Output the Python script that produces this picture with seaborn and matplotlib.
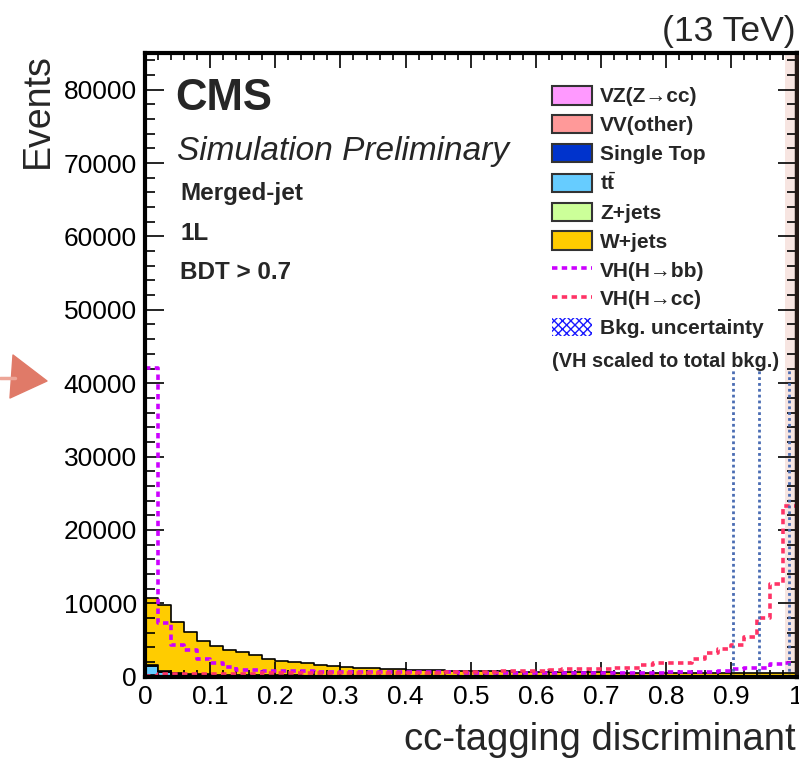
import numpy as np
import pandas as pd
import matplotlib
matplotlib.use("Agg")
import matplotlib.pyplot as plt
import seaborn as sns
from matplotlib.patches import Patch, Polygon
from matplotlib.lines import Line2D

# ---- binning of the cc-tagging discriminant: 50 bins on [0, 1] ----
n_bins = 50
bin_range = (0.0, 1.0)
bin_centers = (np.arange(n_bins) + 0.5) / n_bins

# ---- background yields per bin (events) ----
wjets = [9050, 9070, 6920, 5740, 4585, 3950, 3390, 3110, 2755, 2220,
         2005, 1835, 1675, 1450, 1320, 1150, 1100, 1030, 975, 900,
         850, 815, 780, 740, 705, 675, 650, 620, 600, 585,
         565, 545, 530, 520, 510, 505, 495, 485, 478, 470,
         460, 452, 444, 436, 430, 424, 418, 412, 406, 400]
zjets = [130, 110, 90, 75, 62, 55, 48, 43, 39, 35,
         32, 30, 28, 26, 24, 23, 22, 21, 20, 19,
         18, 18, 17, 17, 16, 16, 15, 15, 15, 14,
         14, 14, 13, 13, 13, 12, 12, 12, 12, 11,
         11, 11, 11, 10, 10, 10, 10, 10, 9, 9]
ttbar = [1250, 470, 320, 250, 200, 170, 150, 135, 125, 115,
         108, 102, 96, 92, 88, 84, 80, 77, 74, 72,
         70, 68, 66, 64, 62, 60, 58, 57, 56, 55,
         54, 53, 52, 51, 50, 49, 48, 47, 46, 45,
         44, 43, 42, 41, 40, 40, 39, 38, 37, 36]
single_top = [200, 90, 60, 48, 40, 35, 31, 28, 26, 24,
              22, 21, 20, 19, 18, 17, 16, 16, 15, 15,
              14, 14, 13, 13, 12, 12, 12, 11, 11, 11,
              10, 10, 10, 10, 9, 9, 9, 9, 8, 8,
              8, 8, 8, 7, 7, 7, 7, 7, 6, 6]
vv_other = [45, 30, 24, 20, 17, 15, 13, 12, 11, 10,
            9, 9, 9, 8, 8, 8, 7, 7, 7, 7,
            6, 6, 6, 6, 6, 6, 5, 5, 5, 5,
            5, 5, 5, 5, 5, 4, 4, 4, 4, 4,
            4, 4, 4, 4, 4, 4, 4, 4, 4, 4]
vz_cc = [15, 10, 8, 7, 6, 5, 5, 4, 4, 4,
         4, 3, 3, 3, 3, 3, 3, 3, 3, 3,
         3, 3, 3, 3, 3, 3, 3, 3, 3, 3,
         3, 3, 3, 3, 3, 3, 3, 3, 3, 3,
         3, 3, 3, 3, 3, 3, 3, 3, 3, 3]

# ---- signal shapes (VH scaled to total background) ----
vh_bb = [42100, 7370, 4320, 3640, 2410, 1830, 1280, 910, 910, 820,
         780, 750, 720, 700, 680, 660, 650, 640, 630, 620,
         610, 600, 590, 580, 570, 560, 550, 550, 540, 540,
         540, 530, 530, 530, 530, 540, 540, 550, 560, 570,
         580, 600, 650, 700, 800, 1000, 1150, 1230, 1690, 1910]
vh_cc = [150, 300, 330, 350, 370, 390, 400, 420, 430, 440,
         450, 460, 470, 480, 490, 500, 510, 520, 530, 540,
         550, 560, 570, 580, 600, 650, 700, 750, 780, 780,
         800, 850, 1000, 1000, 1000, 1100, 1200, 1230, 1600, 1850,
         1850, 1850, 2370, 3190, 3740, 4320, 5460, 8050, 12600, 23300]

# working-point markers
wp_cuts = [0.902, 0.943, 0.988]
wp_height = 42100

bkg_names = ["W+jets", "Z+jets", "t$\\bar{\\mathbf{t}}$", "Single Top", "VV(other)", "VZ(Z\u2192cc)"]
bkg_yields = [wjets, zjets, ttbar, single_top, vv_other, vz_cc]
bkg_colors = ["#ffcc00", "#ccff99", "#66ccff", "#0033cc", "#ff9999", "#ff99ff"]

x_tick_values = [0, 0.1, 0.2, 0.3, 0.4, 0.5, 0.6, 0.7, 0.8, 0.9, 1.0]
x_tick_labels = ["0", "0.1", "0.2", "0.3", "0.4", "0.5", "0.6", "0.7", "0.8", "0.9", "1"]
y_tick_values = [0, 10000, 20000, 30000, 40000, 50000, 60000, 70000, 80000]

# ---- long table for seaborn ----
bkg_df = pd.concat(
    [pd.DataFrame({"x": bin_centers, "w": vals, "process": name})
     for name, vals in zip(bkg_names, bkg_yields)],
    ignore_index=True)
sig_bb = pd.DataFrame({"x": bin_centers, "w": vh_bb})
sig_cc = pd.DataFrame({"x": bin_centers, "w": vh_cc})

sns.set_theme(style="ticks")
plt.rcParams["font.family"] = ["Liberation Sans", "DejaVu Sans"]
plt.rcParams["mathtext.fontset"] = "custom"
plt.rcParams["mathtext.rm"] = "Liberation Sans"
plt.rcParams["mathtext.bf"] = "Liberation Sans:bold"
plt.rcParams["mathtext.it"] = "Liberation Sans:italic"

W, H = 799, 758
fig = plt.figure(figsize=(W / 100, H / 100), dpi=100)
ax_l, ax_r, ax_t, ax_b = 145.0, 796.5, 53.0, 676.7
ax = fig.add_axes([ax_l / W, 1 - ax_b / H, (ax_r - ax_l) / W, (ax_b - ax_t) / H])

# highlighted last column
ax.axvspan(0.982, 1.0, color="#f7e5e1", lw=0, zorder=0)

# stacked backgrounds (first hue level ends up on top of the stack)
sns.histplot(data=bkg_df, x="x", weights="w", hue="process",
             hue_order=bkg_names, palette=bkg_colors,
             multiple="stack", bins=n_bins, binrange=bin_range, element="step",
             edgecolor="black", linewidth=1.2, alpha=1.0,
             legend=False, ax=ax, zorder=2)

dot_style = (0, (1.5, 1.2))
sns.histplot(data=sig_bb, x="x", weights="w", bins=n_bins, binrange=bin_range,
             element="step", fill=False, color="#cc00ff",
             linestyle=dot_style, linewidth=2.6, ax=ax, zorder=4)
sns.histplot(data=sig_cc, x="x", weights="w", bins=n_bins, binrange=bin_range,
             element="step", fill=False, color="#ff3366",
             linestyle=dot_style, linewidth=2.6, ax=ax, zorder=4)

ax.vlines(wp_cuts, 0, wp_height, colors="#4a6cb3", linestyles=(0, (1, 1.1)),
          linewidth=2.0, zorder=5)

ax.set_xlim(0, 1)
ax.set_ylim(0, 85000)
ax.set_xticks(x_tick_values)
ax.set_xticklabels(x_tick_labels)
ax.set_yticks(y_tick_values)
ax.set_yticklabels([str(v) for v in y_tick_values])
ax.set_xticks(np.arange(0, 1.0001, 0.02), minor=True)
ax.set_yticks(np.arange(0, 85001, 2000), minor=True)

ax.tick_params(axis="both", which="both", direction="in", top=True, right=True,
               labelsize=19, pad=6, colors="black")
ax.tick_params(axis="x", which="major", length=11, width=1.2)
ax.tick_params(axis="x", which="minor", length=5, width=1.2)
ax.tick_params(axis="y", which="major", length=14, width=1.2)
ax.tick_params(axis="y", which="minor", length=7, width=1.2)
ax.set_axisbelow(False)

for side in ("left", "bottom", "top"):
    ax.spines[side].set_color("black")
    ax.spines[side].set_linewidth(3)
ax.spines["right"].set_color("#231815")
ax.spines["right"].set_linewidth(3.2)
for sp in ax.spines.values():
    sp.set_zorder(6)

ax.set_xlabel("cc-tagging discriminant", fontsize=27.5, loc="right")
ax.xaxis.set_label_coords(0.998, -0.072)
ax.set_ylabel("Events", fontsize=27, loc="top")
ax.yaxis.set_label_coords(-0.137, 1.0)

# ---- header texts ----
ax.text(0.046, 0.9086, "CMS", fontsize=31.5, fontweight="bold",
        transform=ax.transAxes, va="baseline")
ax.text(0.049, 0.8283, "Simulation Preliminary", fontsize=24, style="italic",
        transform=ax.transAxes, va="baseline")
for txt, yb in [("Merged-jet", 0.764), ("1L", 0.700), ("BDT > 0.7", 0.637)]:
    ax.text(0.054, yb, txt, fontsize=17.5, fontweight="bold",
            transform=ax.transAxes, va="baseline")
ax.text(0.998, 1.0197, "(13 TeV)", fontsize=25.5, ha="right", va="baseline",
        transform=ax.transAxes)

# ---- legend ----
handles = [Patch(facecolor=c, edgecolor="#333333", linewidth=1.5)
           for c in bkg_colors[::-1]]
labels = bkg_names[::-1]
handles += [Line2D([], [], color="#cc00ff", linestyle=dot_style, linewidth=2.6),
            Line2D([], [], color="#ff3366", linestyle=dot_style, linewidth=2.6),
            Patch(facecolor="white", edgecolor="#1a1aff", hatch="xxxx", linewidth=0)]
labels += ["VH(H\u2192bb)", "VH(H\u2192cc)", "Bkg. uncertainty"]
leg = ax.legend(handles, labels, loc="upper left",
                bbox_to_anchor=(552 / W, 1 - 86 / H), bbox_transform=fig.transFigure,
                frameon=False, prop={"weight": "bold", "size": 15},
                handlelength=1.9, handleheight=1.0, handletextpad=0.4,
                labelspacing=0.40, borderpad=0, borderaxespad=0)
leg.set_zorder(8)
fig.text(552 / W, 1 - 362 / H, "(VH scaled to total bkg.)", fontsize=14.3,
         fontweight="bold", va="center", ha="left")

# ---- pointer arrow next to the 40000 label ----
def fpt(px, py):
    return (px / W, 1 - py / H)

fig.add_artist(Line2D([0, 15 / W], [1 - 378 / H, 1 - 378 / H],
                      transform=fig.transFigure, color="#eda597", linewidth=2.5))
fig.add_artist(Polygon([fpt(13, 355), fpt(47, 381), fpt(10, 398)], closed=True,
                       transform=fig.transFigure, facecolor="#e07a68",
                       edgecolor="#e07a68", linewidth=1, joinstyle="round"))

fig.savefig("out.png", dpi=100)
